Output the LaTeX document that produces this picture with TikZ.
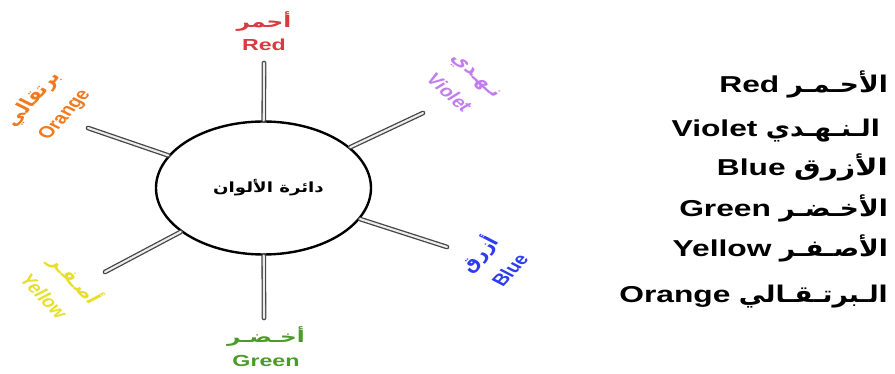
\documentclass[tikz,border=0pt]{standalone}
\usepackage{fontspec}
\setmainfont{Liberation Sans}
\newfontfamily\arabicfont[Script=Arabic]{DejaVu Sans}
\TeXXeTstate=1
\usetikzlibrary{shapes.geometric}
\definecolor{cred}{HTML}{D93A3F}
\definecolor{cviolet}{HTML}{C27CF0}
\definecolor{cblue}{HTML}{2B3CF2}
\definecolor{cgreen}{HTML}{4C9A2A}
\definecolor{cyellow}{HTML}{E6E02A}
\definecolor{corange}{HTML}{F27A1E}
\newcommand{\radlab}[9]{%
  \begin{scope}[shift={(#2,#3)},xscale=#8]
    \node[lab,rotate=#4,text=#5,font=\bfseries\fontsize{16}{#9}\selectfont] (#1) at (0,0) {{\arabicfont\beginR #6\endR}\\#7};
  \end{scope}}
\newcommand{\legrow}[6]{%
  \node[leg] (#1a) at (#2,#3) {\scalebox{#6}[1]{\arabicfont\beginR #4\endR}};
  \node[leg] (#1e) at ([xshift=-8pt]#1a.base west) {\scalebox{1.38}[1]{#5}};}
\begin{document}
\begin{tikzpicture}[x=1pt,y=-1pt,
  spoke/.style={draw=gray!55!black, double=gray!15, line width=1.3pt, double distance=2.1pt, line cap=round},
  lab/.style={transform shape, align=center, inner sep=0pt},
  leg/.style={anchor=base east, inner sep=0pt, font=\bfseries\fontsize{23}{23}\selectfont}]
\useasboundingbox (0,0) rectangle (895,374);
% centre
\node[ellipse, draw, line width=2.4pt, minimum width=215pt, minimum height=133pt, inner sep=0pt] (c) at (263.5,188)
  {\hspace*{10pt}\scalebox{1.3}[1]{\arabicfont\bfseries\fontsize{14}{14}\selectfont\beginR دائرة الألوان\endR}};
% spoke ends
\coordinate (oR) at (264,63);
\coordinate (oV) at (423,113);
\coordinate (oB) at (447,247);
\coordinate (oG) at (264,318);
\coordinate (oY) at (105,272);
\coordinate (oO) at (88,128);
\foreach \p in {oR,oV,oB,oG,oY,oO} \draw[spoke] (\p) -- (c);
% labels
\radlab{tR}{264}{31}{0}{cred}{أحمر}{Red}{1.45}{23}
\radlab{tG}{266}{347}{0}{cgreen}{أخـضـر}{Green}{1.45}{24}
\radlab{tV}{462}{85}{-50}{cviolet}{نـهـدي}{Violet}{1.35}{28}
\radlab{tO}{49}{107}{56}{corange}{برتقالي}{Orange}{1.35}{28}
\radlab{tY}{62}{287}{-55}{cyellow}{أصـفـر}{Yellow}{1.35}{28}
\radlab{tB}{492}{261}{55}{cblue}{أزرق}{Blue}{1.35}{28}
% legend
\legrow{l1}{888}{93}{الأحـمـر}{Red}{1.15}
\legrow{l2}{880}{137}{الـنـهـدي}{Violet}{1.15}
\legrow{l3}{888}{176}{الأزرق}{Blue}{1.3}
\legrow{l4}{888}{217}{الأخـضـر}{Green}{1.15}
\legrow{l5}{888}{257}{الأصـفـر}{Yellow}{1.15}
\legrow{l6}{888}{302}{الـبرتـقـالي}{Orange}{1.15}
\end{tikzpicture}
\end{document}
